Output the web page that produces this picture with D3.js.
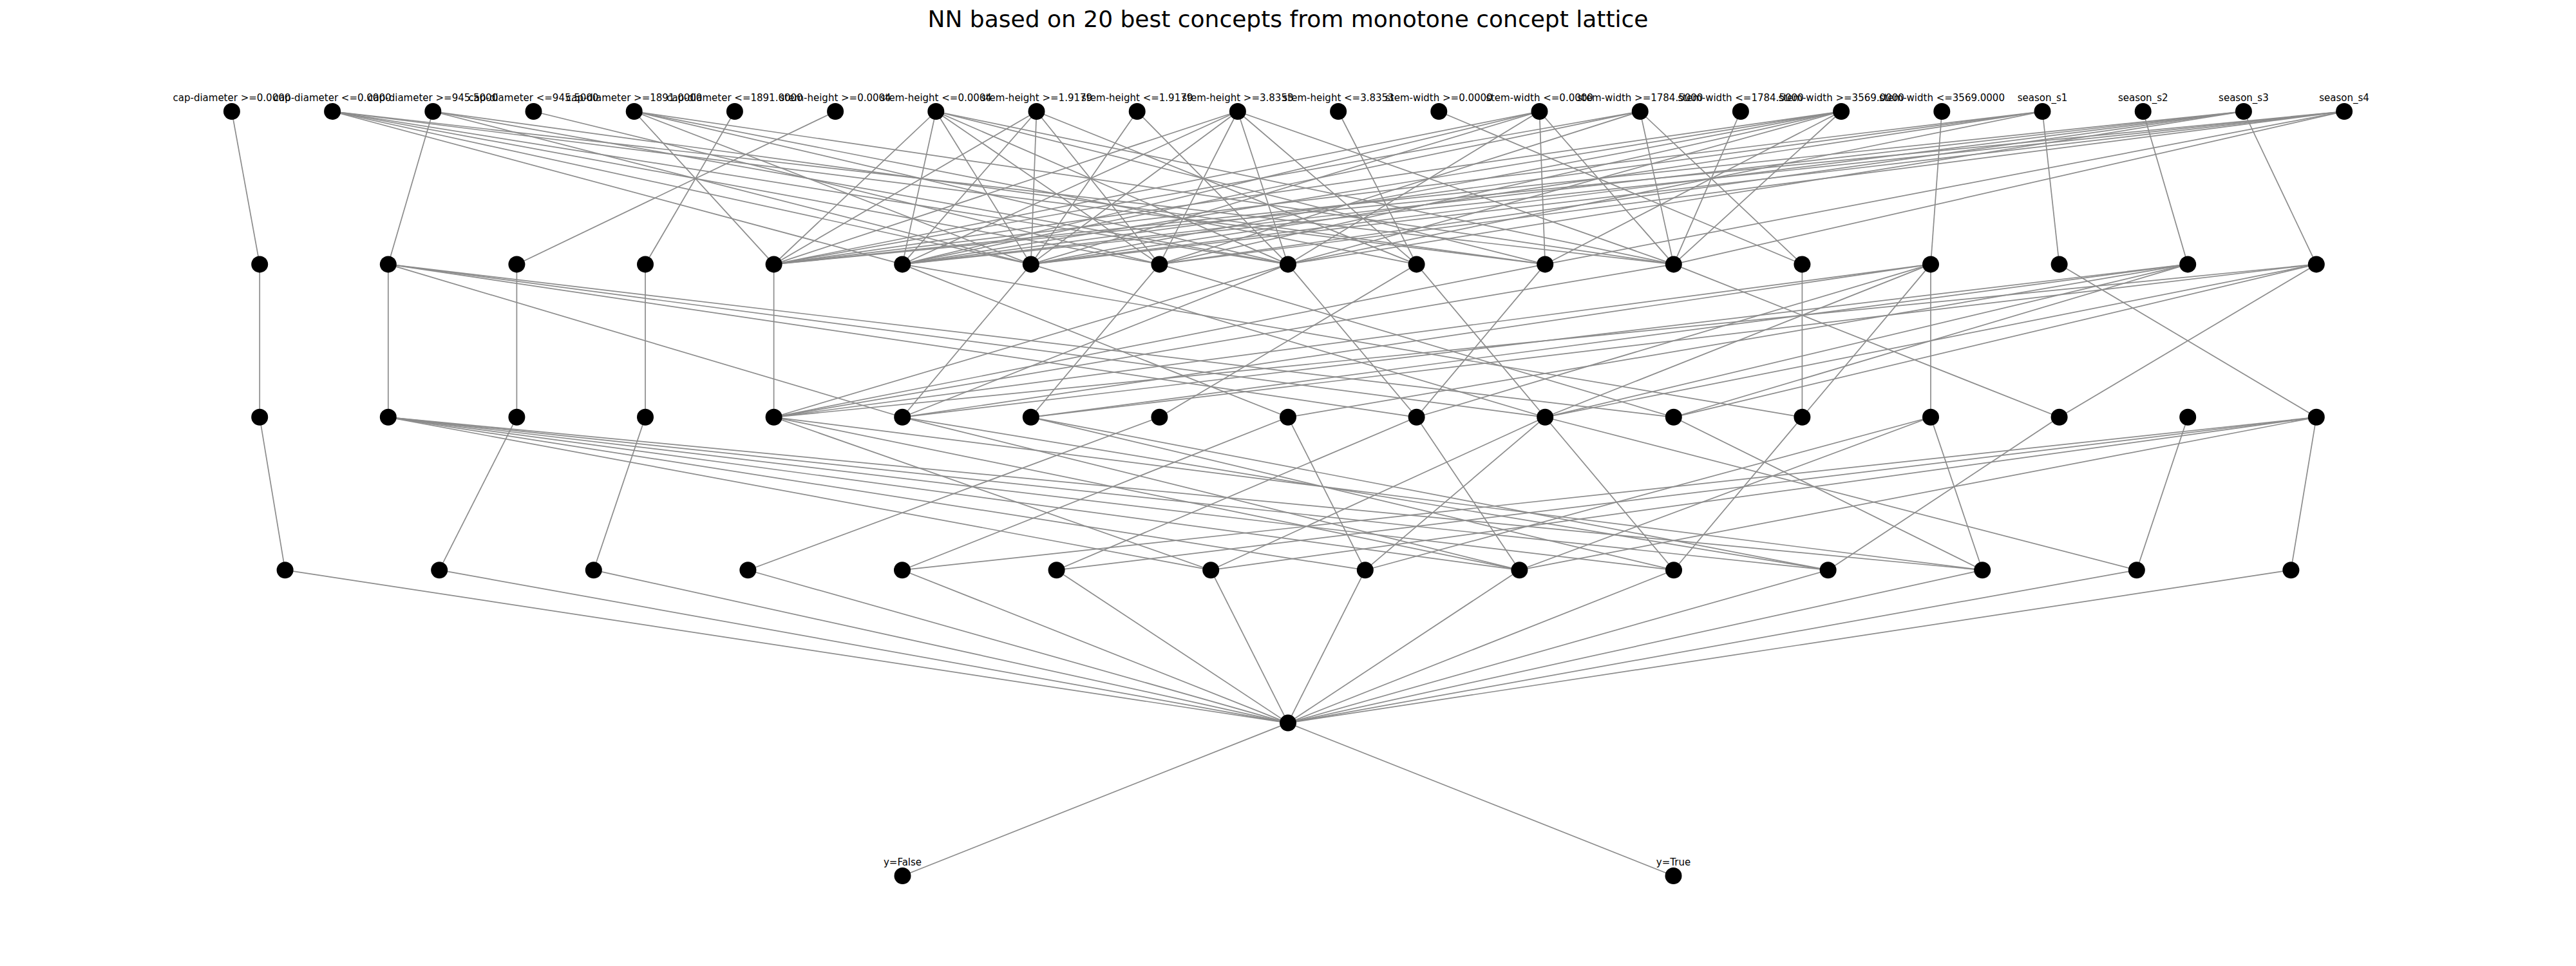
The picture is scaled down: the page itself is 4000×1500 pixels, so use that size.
<!DOCTYPE html>
<html>
<head>
<meta charset="utf-8">
<script src="https://cdn.jsdelivr.net/npm/d3@7"></script>
<style>
  body { margin: 0; background: #fff; }
  text { font-family: "DejaVu Sans", sans-serif; }
</style>
</head>
<body>
<div id="viz"></div>
<script>
var W = 4000, H = 1500;

// nodes per layer (top to bottom)
var inputLabels = ["cap-diameter >=0.0000", "cap-diameter <=0.0000", "cap-diameter >=945.5000",
  "cap-diameter <=945.5000", "cap-diameter >=1891.0000", "cap-diameter <=1891.0000",
  "stem-height >=0.0004", "stem-height <=0.0004", "stem-height >=1.9179", "stem-height <=1.9179",
  "stem-height >=3.8353", "stem-height <=3.8353", "stem-width >=0.0000", "stem-width <=0.0000",
  "stem-width >=1784.5000", "stem-width <=1784.5000", "stem-width >=3569.0000", "stem-width <=3569.0000",
  "season_s1", "season_s2", "season_s3", "season_s4"];
var layerSizes = [22, 17, 17, 14, 1, 2];
var outputLabels = ["y=False", "y=True"];

// edges between consecutive layers: source index -> target indices
var edges01 = [[0],[5,6,7,8,10,11],[1,6,8,10],[7],[4,6,8,9,11],[3],[2],[4,5,6,7,8,10,11],
  [4,5,6,7,9],[6,8],[4,5,6,7,8,9,11],[9],[12],[4,5,6,8,10,11],[4,5,7,11,12],[11],
  [4,5,6,7,8,10,11],[13],[4,5,6,8,14],[15],[4,5,6,7,8,16],[4,5,6,7,10,11]];
var edges12 = [[0],[1,5,9,10,11],[2],[3],[4],[8,12],[5,10],[6,11],[4,5,9],[7,10],[4,9],
  [4,14],[12],[4,5,9,10,12,13],[16],[5,6,8,10,11],[4,6,10,11,14]];
var edges23 = [[0],[6,7,8,9,10,11],[1],[2],[6,8,11],[8,10],[9,10],[3],[4,7],[5,8],[6,7,9,12],
  [11],[9],[7,8,11],[10],[12],[4,5,6,8,13]];
var edges34 = d3.range(14).map(function(){ return [0]; });
var edges45 = [[0,1]];
var layerEdges = [edges01, edges12, edges23, edges34, edges45];

// layout
var layerY = d3.scalePoint().domain(d3.range(layerSizes.length)).range([173, 1360]);
var layerSpacing = [156.2, 199.6, 199.6, 239.6, 0, 1197];
var CX = 2000;

function nodeX(layer, i){
	var n = layerSizes[layer];
	var s = d3.scaleLinear().domain([0, n - 1 || 1])
		.range([CX - layerSpacing[layer] * (n - 1) / 2, CX + layerSpacing[layer] * (n - 1) / 2]);
	return n === 1 ? CX : s(i);
}

var svg = d3.select("#viz").append("svg")
	.attr("width", W).attr("height", H);

svg.append("text")
	.attr("x", CX).attr("y", 42)
	.attr("text-anchor", "middle")
	.attr("font-size", 36)
	.text("NN based on 20 best concepts from monotone concept lattice");

// links
var links = [];
layerEdges.forEach(function(le, l){
	le.forEach(function(targets, s){
		targets.forEach(function(t){
			links.push({x1: nodeX(l, s), y1: layerY(l), x2: nodeX(l + 1, t), y2: layerY(l + 1)});
		});
	});
});
svg.append("g").selectAll("line")
	.data(links).enter().append("line")
	.attr("x1", function(d){ return d.x1; })
	.attr("y1", function(d){ return d.y1; })
	.attr("x2", function(d){ return d.x2; })
	.attr("y2", function(d){ return d.y2; })
	.attr("stroke", "#8c8c8c")
	.attr("stroke-width", 1.7);

// nodes
var nodes = [];
layerSizes.forEach(function(n, l){
	d3.range(n).forEach(function(i){
		var label = l === 0 ? inputLabels[i] : (l === 5 ? outputLabels[i] : null);
		nodes.push({x: nodeX(l, i), y: layerY(l), label: label});
	});
});
svg.append("g").selectAll("circle")
	.data(nodes).enter().append("circle")
	.attr("cx", function(d){ return d.x; })
	.attr("cy", function(d){ return d.y; })
	.attr("r", 13)
	.attr("fill", "#000");

svg.append("g").selectAll("text")
	.data(nodes.filter(function(d){ return d.label; })).enter().append("text")
	.attr("x", function(d){ return d.x; })
	.attr("y", function(d){ return d.y - 16; })
	.attr("text-anchor", "middle")
	.attr("font-size", 15)
	.text(function(d){ return d.label; });
</script>
</body>
</html>
